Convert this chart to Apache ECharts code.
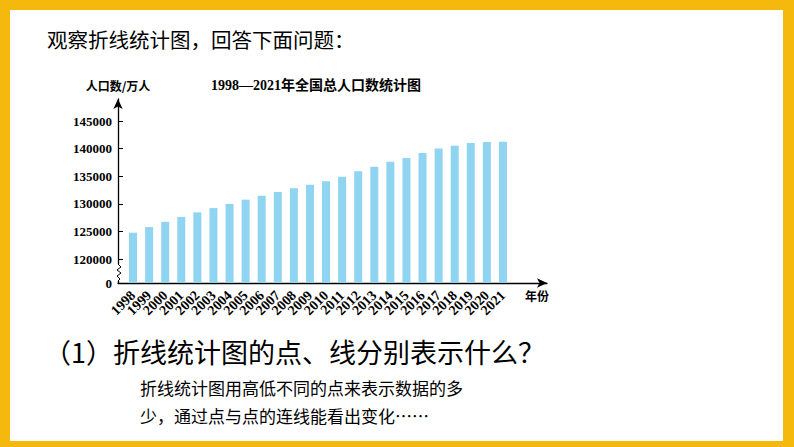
<!DOCTYPE html>
<html>
<head>
<meta charset="utf-8">
<script src="https://cdn.jsdelivr.net/npm/echarts@6/dist/echarts.min.js"></script>
<style>
html,body{margin:0;padding:0;background:#fff;}
#wrap{position:relative;width:794px;height:447px;box-sizing:border-box;border-style:solid;border-color:#F4B90C;border-width:10px 11px 6px 10px;background:#fff;}
#chart{position:absolute;left:-10px;top:-10px;width:794px;height:447px;}
</style>
</head>
<body>
<div id="wrap"><div id="chart"></div></div>
<script>
const years = ['1998','1999','2000','2001','2002','2003','2004','2005','2006','2007','2008','2009','2010','2011','2012','2013','2014','2015','2016','2017','2018','2019','2020','2021'];
const population = [124761,125786,126743,127627,128453,129227,129988,130756,131448,132129,132802,133450,134091,134916,135922,136726,137646,138326,139232,140011,140541,141008,141212,141260];
const yTicks = [120000,125000,130000,135000,140000,145000];
const yAxisMin = 115650;
const yAxisMax = 149000;
const chartTitle = '1998—2021年全国总人口数统计图';
const yName = '人口数/万人';
const xName = '年份';
const heading = '观察折线统计图，回答下面问题：';
const question = '（1）折线统计图的点、线分别表示什么？';
const answer1 = '折线统计图用高低不同的点来表示数据的多';
const answer2 = '少，通过点与点的连线能看出变化……';

const serif = "'Liberation Serif','Noto Sans CJK SC',serif";
const cjk = "'Noto Sans CJK SC',sans-serif";
const chart = echarts.init(document.getElementById('chart'), null, {renderer:'svg'});
chart.setOption({
  animation:false,
  title:{text:chartTitle,left:206,top:73,textStyle:{fontFamily:serif,fontSize:14,fontWeight:'bold',color:'#000'}},
  grid:[
    {left:118,top:99,width:429,height:184},
    {left:125,top:99,width:386,height:184}
  ],
  xAxis:[
    {gridIndex:0,type:'value',min:0,max:1,axisLine:{show:true,symbol:['none','arrow'],symbolSize:[7,10],lineStyle:{color:'#000',width:1.3}},axisTick:{show:false},axisLabel:{show:false},splitLine:{show:false}},
    {gridIndex:1,type:'category',data:years,axisLine:{show:false},axisTick:{show:false},
     axisLabel:{rotate:45,margin:10,interval:0,fontFamily:serif,fontWeight:'bold',fontSize:14,color:'#000'}}
  ],
  yAxis:[
    {gridIndex:0,type:'value',min:yAxisMin,max:yAxisMax,
     name:yName,nameLocation:'end',nameGap:8,nameTextStyle:{fontFamily:cjk,fontWeight:'bold',fontSize:12,color:'#000'},
     axisLine:{show:true,symbol:['none','arrow'],symbolSize:[7,10],lineStyle:{color:'#000',width:1.3}},
     axisTick:{show:true,inside:true,length:5,customValues:yTicks,lineStyle:{color:'#000'}},
     axisLabel:{customValues:[yAxisMin].concat(yTicks),margin:6,fontFamily:serif,fontWeight:'bold',fontSize:13,color:'#000',
       formatter:function(v){return v<=yAxisMin+1?'0':String(v);}},
     splitLine:{show:false}},
    {gridIndex:1,type:'value',min:yAxisMin,max:yAxisMax,show:false,splitLine:{show:false}}
  ],
  series:[{type:'bar',xAxisIndex:1,yAxisIndex:1,data:population,barWidth:8,itemStyle:{color:'#8FD4F0'}}],
  graphic:[
    {type:'rect',shape:{x:115,y:264,width:7,height:17},style:{fill:'#fff'},z:100},
    {type:'polyline',shape:{points:[[118,264],[121,267],[117,270],[121,273],[117,276],[120,279],[118,281]]},style:{stroke:'#000',lineWidth:1,fill:null},z:101},
    {type:'text',left:525,top:289,style:{text:xName,font:"bold 12px 'Noto Sans CJK SC'",fill:'#000'}},
    {type:'text',left:47,top:29,style:{text:heading,font:"20.5px 'Noto Sans CJK SC'",fill:'#000'}},
    {type:'text',left:44,top:338,style:{text:question,font:"27px 'Noto Sans CJK SC'",fill:'#000'}},
    {type:'text',left:140,top:379,style:{text:answer1,font:"17px 'Noto Sans CJK SC'",fill:'#000'}},
    {type:'text',left:140,top:407,style:{text:answer2,font:"17px 'Noto Sans CJK SC'",fill:'#000'}}
  ]
});
</script>
</body>
</html>
